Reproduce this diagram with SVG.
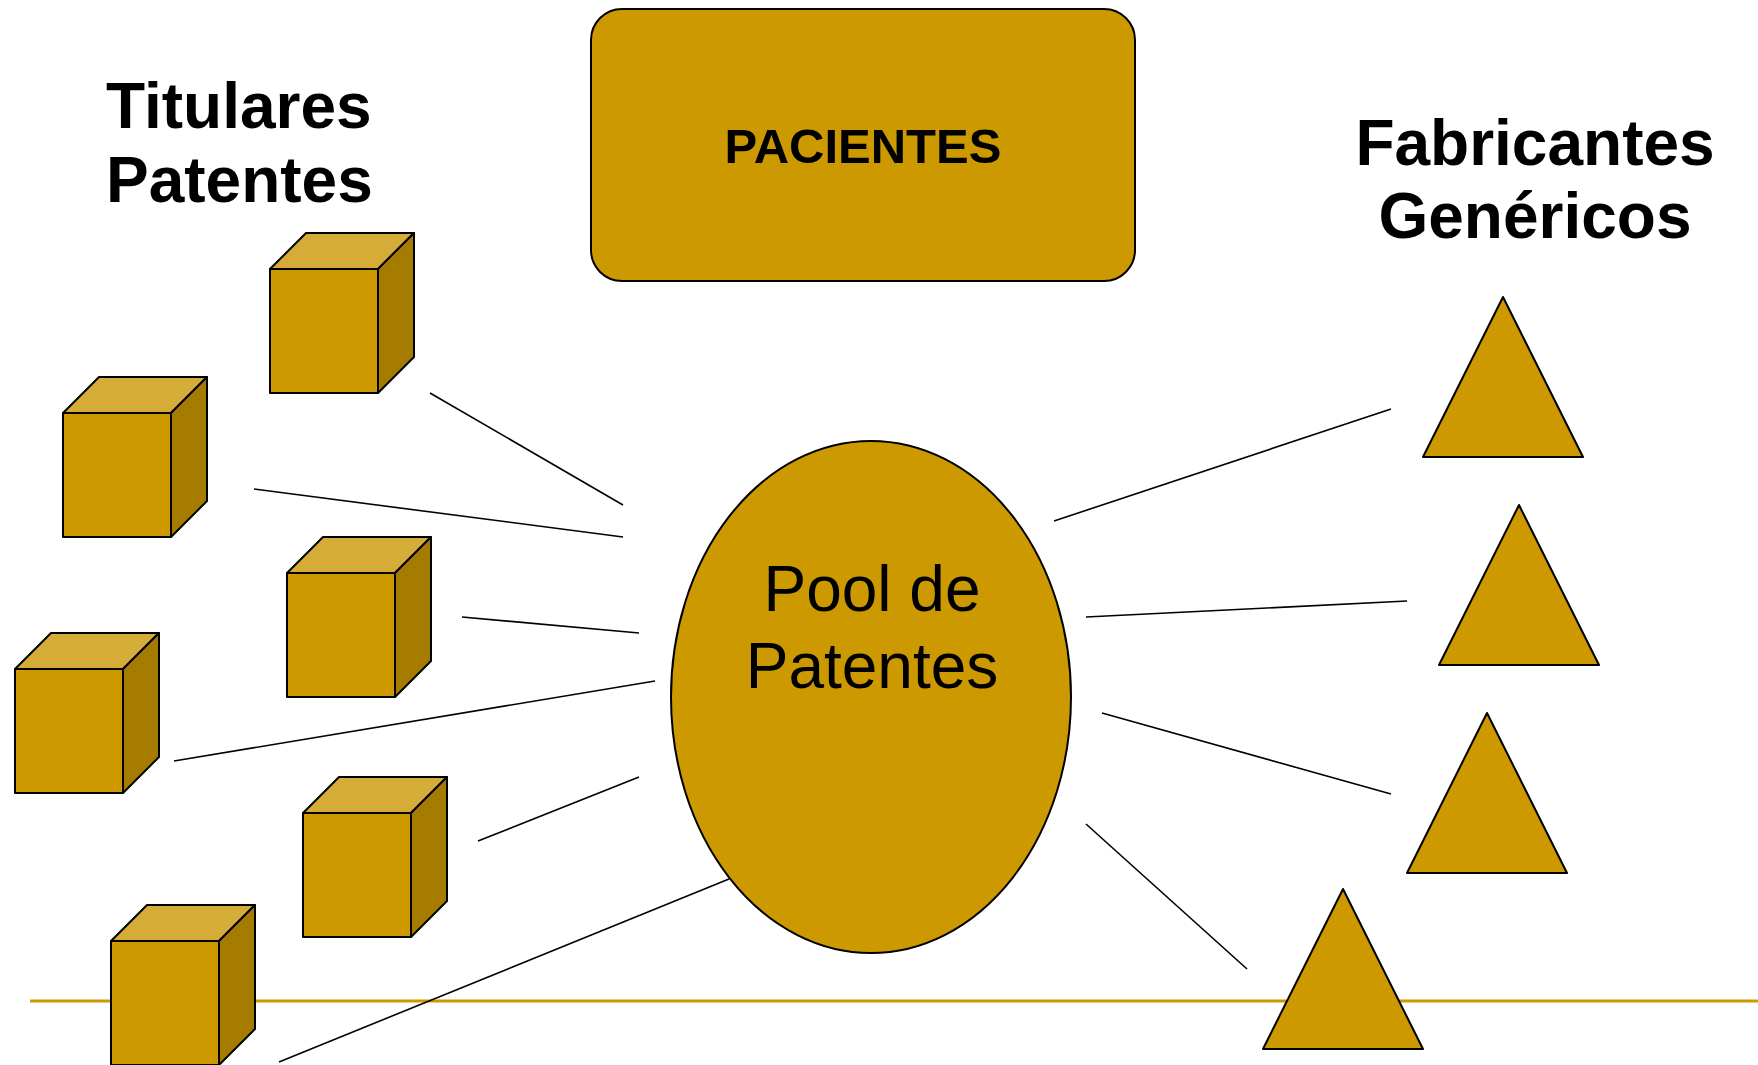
<svg xmlns="http://www.w3.org/2000/svg" width="1758" height="1065" viewBox="0 0 1758 1065">
<style>
.f{fill:#CC9900;stroke:#000;stroke-width:2;stroke-linejoin:round}
.t{fill:#D6AC38;stroke:#000;stroke-width:2;stroke-linejoin:round}
.s{fill:#A67C00;stroke:#000;stroke-width:2;stroke-linejoin:round}
.c line{stroke:#000;stroke-width:1.6}
.hb{font-family:"Liberation Sans",Arial,sans-serif;font-weight:bold;fill:#000}
.hn{font-family:"Liberation Sans",Arial,sans-serif;fill:#000}
</style>
<rect width="1758" height="1065" fill="#fff"/>
<line x1="30" y1="1001" x2="1758" y2="1001" stroke="#CC9900" stroke-width="3"/>
<g id="connectors" class="c">
<line x1="430" y1="393" x2="623" y2="505"/>
<line x1="254" y1="489" x2="623" y2="537"/>
<line x1="462" y1="617" x2="639" y2="633"/>
<line x1="174" y1="761" x2="655" y2="681"/>
<line x1="478" y1="841" x2="639" y2="777"/>
<line x1="279" y1="1062" x2="729" y2="879"/>
<line x1="1054" y1="521" x2="1391" y2="409"/>
<line x1="1086" y1="617" x2="1407" y2="601"/>
<line x1="1102" y1="713" x2="1391" y2="794"/>
<line x1="1086" y1="824" x2="1247" y2="969"/>
</g>
<g id="titulares">
<text class="hb" x="106" y="128" font-size="64">Titulares</text>
<text class="hb" x="106" y="202" font-size="64">Patentes</text>
</g>
<g id="fabricantes">
<text class="hb" x="1535" y="165" font-size="64" text-anchor="middle">Fabricantes</text>
<text class="hb" x="1535" y="238" font-size="64" text-anchor="middle">Genéricos</text>
</g>
<g id="pacientes">
<rect x="591" y="9" width="544" height="272" rx="31" ry="31" class="f"/>
<text class="hb" x="863" y="163" font-size="49" text-anchor="middle">PACIENTES</text>
</g>
<g id="pool">
<ellipse cx="871" cy="697" rx="200" ry="256" class="f" stroke-width="1.6"/>
<text class="hn" x="872" y="611" font-size="64" text-anchor="middle">Pool de</text>
<text class="hn" x="872" y="688" font-size="64" text-anchor="middle">Patentes</text>
</g>
<g id="cube1">
<polygon class="t" points="270,269 306,233 414,233 378,269"/>
<polygon class="s" points="378,269 414,233 414,357 378,393"/>
<rect class="f" x="270" y="269" width="108" height="124"/>
</g>
<g id="cube2">
<polygon class="t" points="63,413 99,377 207,377 171,413"/>
<polygon class="s" points="171,413 207,377 207,501 171,537"/>
<rect class="f" x="63" y="413" width="108" height="124"/>
</g>
<g id="cube3">
<polygon class="t" points="287,573 323,537 431,537 395,573"/>
<polygon class="s" points="395,573 431,537 431,661 395,697"/>
<rect class="f" x="287" y="573" width="108" height="124"/>
</g>
<g id="cube4">
<polygon class="t" points="15,669 51,633 159,633 123,669"/>
<polygon class="s" points="123,669 159,633 159,757 123,793"/>
<rect class="f" x="15" y="669" width="108" height="124"/>
</g>
<g id="cube5">
<polygon class="t" points="303,813 339,777 447,777 411,813"/>
<polygon class="s" points="411,813 447,777 447,901 411,937"/>
<rect class="f" x="303" y="813" width="108" height="124"/>
</g>
<g id="cube6">
<polygon class="t" points="111,941 147,905 255,905 219,941"/>
<polygon class="s" points="219,941 255,905 255,1029 219,1065"/>
<rect class="f" x="111" y="941" width="108" height="124"/>
</g>
<g id="tri1"><polygon class="f" stroke-width="1.6" points="1503,297 1583,457 1423,457"/></g>
<g id="tri2"><polygon class="f" stroke-width="1.6" points="1519,505 1599,665 1439,665"/></g>
<g id="tri3"><polygon class="f" stroke-width="1.6" points="1487,713 1567,873 1407,873"/></g>
<g id="tri4"><polygon class="f" stroke-width="1.6" points="1343,889 1423,1049 1263,1049"/></g>
</svg>
